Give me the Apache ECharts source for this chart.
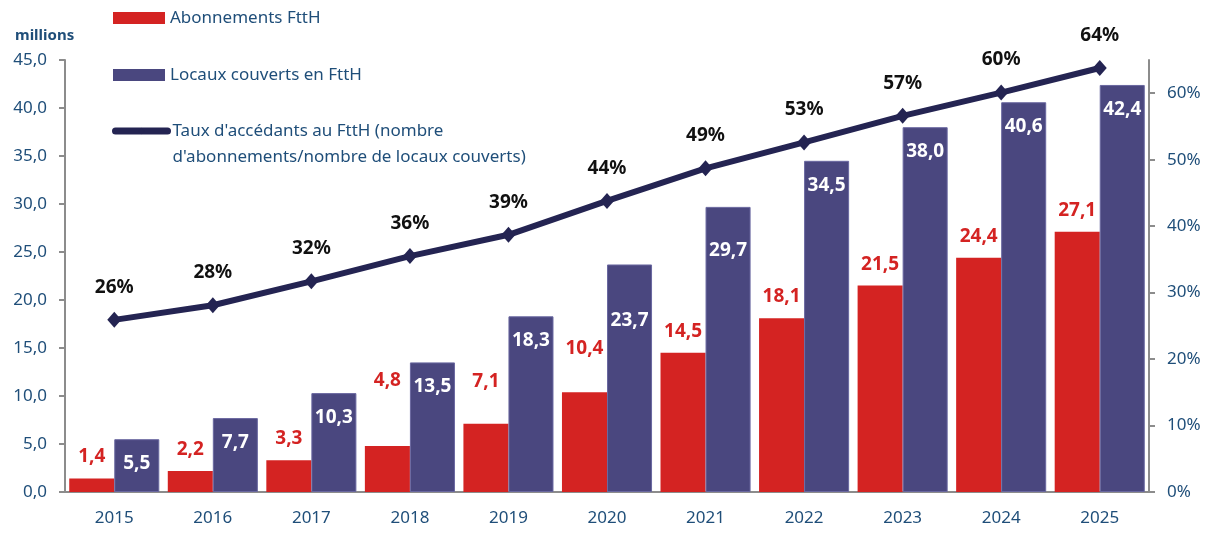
<!DOCTYPE html>
<html>
<head>
<meta charset="utf-8">
<script src="https://cdn.jsdelivr.net/npm/echarts@6/dist/echarts.min.js"></script>
<style>
  html, body { margin: 0; padding: 0; background: #fff; }
  #main { width: 1216px; height: 536px; }
</style>
</head>
<body>
<div id="main"></div>
<script>
// données
var years = ["2015", "2016", "2017", "2018", "2019", "2020", "2021", "2022", "2023", "2024", "2025"];
var abonnements = [1.4, 2.2, 3.3, 4.8, 7.1, 10.4, 14.5, 18.1, 21.5, 24.4, 27.1];
var locaux = [5.5, 7.7, 10.3, 13.5, 18.3, 23.7, 29.7, 34.5, 38.0, 40.6, 42.4];
var taux = [25.9, 28.1, 31.7, 35.5, 38.7, 43.8, 48.7, 52.6, 56.6, 60.1, 63.8];
var leftTicks = [0, 5, 10, 15, 20, 25, 30, 35, 40, 45];
var rightTicks = [0, 10, 20, 30, 40, 50, 60];

var txtBlue = "#1f4e79";
var axisGrey = "#8c8c8c";
var font = "Noto Sans";

// quelques étiquettes déplacées à la main dans l'original
var redShift = { 3: 56, 4: 33, 5: 34 };
var blueShift = { 5: 47, 6: 34 };

var myChart = echarts.init(document.getElementById("main"));

var option = {
  animation: false,
  textStyle: { fontFamily: font },
  title: {
    text: "millions",
    left: 10,
    top: 23,
    textStyle: { fontSize: 15, fontWeight: "bold", color: txtBlue, fontFamily: font },
  },
  legend: [
    {
      left: 113, top: 8, padding: 0,
      itemWidth: 52, itemHeight: 12,
      icon: "rect",
      data: ["Abonnements FttH"],
      textStyle: { fontSize: 17, color: txtBlue, lineHeight: 20 },
    },
    {
      left: 113, top: 65, padding: 0,
      itemWidth: 52, itemHeight: 12,
      icon: "rect",
      itemStyle: { borderWidth: 0 },
      data: ["Locaux couverts en FttH"],
      textStyle: { fontSize: 17, color: txtBlue, lineHeight: 20 },
    },
    {
      left: 112, top: 92, padding: 0,
      itemWidth: 52, itemHeight: 8,
      itemGap: 4,
      lineStyle: { width: 7, cap: "round" },
      data: ["taux"],
      // ligne vide en tête pour aligner la 1re ligne avec le symbole
      formatter: function () {
        return " \nTaux d'accédants au FttH (nombre\nd'abonnements/nombre de locaux couverts)";
      },
      textStyle: { fontSize: 17, color: txtBlue, lineHeight: 26 },
    },
  ],
  grid: { left: 65, right: 67, top: 60, bottom: 44 },
  xAxis: {
    type: "category",
    data: years,
    axisLine: { lineStyle: { color: axisGrey, width: 2 } },
    axisTick: { length: 6, lineStyle: { color: axisGrey, width: 2 } },
    axisLabel: { fontSize: 17, color: txtBlue, margin: 18 },
  },
  yAxis: [
    {
      type: "value",
      min: 0,
      max: 45,
      interval: 5,
      splitLine: { show: false },
      axisLine: { show: true, lineStyle: { color: axisGrey, width: 2 } },
      axisTick: { show: true, length: 6, lineStyle: { color: axisGrey, width: 2 }, customValues: leftTicks },
      axisLabel: {
        fontSize: 17,
        color: txtBlue,
        margin: 18,
        customValues: leftTicks,
        formatter: function (v) { return v.toFixed(1).replace(".", ","); },
      },
    },
    {
      type: "value",
      min: 0,
      max: 65,
      position: "right",
      splitLine: { show: false },
      axisLine: { show: true, lineStyle: { color: axisGrey, width: 2 } },
      axisTick: { show: true, length: 6, lineStyle: { color: axisGrey, width: 2 }, customValues: rightTicks },
      axisLabel: {
        fontSize: 17,
        color: txtBlue,
        margin: 18,
        customValues: rightTicks,
        formatter: "{value}%",
      },
    },
  ],
  series: [
    {
      name: "Abonnements FttH",
      type: "bar",
      barGap: "0%",
      barCategoryGap: "8.6%",
      itemStyle: { color: "#d42322" },
      data: abonnements.map(function (v, i) {
        var d = { value: v };
        if (redShift[i]) d.label = { distance: redShift[i] };
        return d;
      }),
      label: {
        show: true,
        position: "top",
        distance: 12,
        fontSize: 19,
        fontWeight: "bold",
        color: "#d42322",
        formatter: function (p) { return p.value.toFixed(1).replace(".", ","); },
      },
    },
    {
      name: "Locaux couverts en FttH",
      type: "bar",
      itemStyle: { color: "#4a477f", borderColor: "#6a68a0", borderWidth: 1 },
      data: locaux.map(function (v, i) {
        var d = { value: v };
        if (blueShift[i]) d.label = { distance: blueShift[i] };
        return d;
      }),
      label: {
        show: true,
        position: "insideTop",
        distance: 15,
        fontSize: 19,
        fontWeight: "bold",
        color: "#ffffff",
        formatter: function (p) { return p.value.toFixed(1).replace(".", ","); },
      },
    },
    {
      name: "taux",
      type: "line",
      yAxisIndex: 1,
      z: 5,
      data: taux,
      symbol: "diamond",
      symbolSize: [14, 16],
      itemStyle: { color: "#242452" },
      lineStyle: { color: "#242452", width: 6, cap: "round" },
      label: {
        show: true,
        position: "top",
        distance: 15,
        fontSize: 19,
        fontWeight: "bold",
        color: "#111111",
        formatter: function (p) { return Math.round(p.value) + "%"; },
      },
    },
  ],
};

myChart.setOption(option);
</script>
</body>
</html>
